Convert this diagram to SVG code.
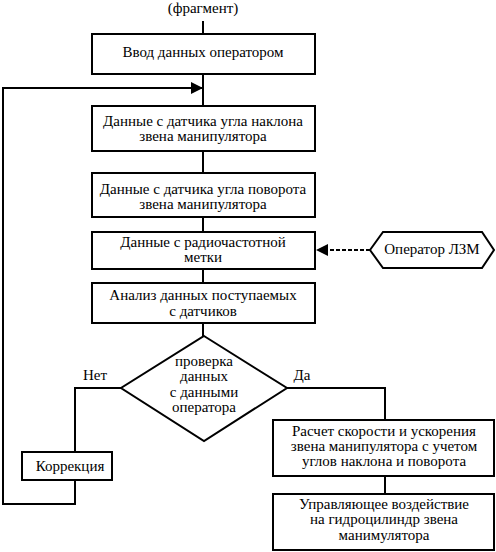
<svg xmlns="http://www.w3.org/2000/svg" width="496" height="552" viewBox="0 0 496 552" font-family="Liberation Serif" font-size="15">
<style>
.b{fill:#fff;stroke:#000;stroke-width:2}
.t{fill:#000;text-anchor:middle}
.c{fill:none;stroke:#000;stroke-width:2}
.d{fill:none;stroke:#000;stroke-width:2;stroke-dasharray:4,2}
</style>
<defs>
<marker id="a2" viewBox="0 0 10 10" refX="10" refY="5" markerWidth="12" markerHeight="12" markerUnits="userSpaceOnUse" orient="auto"><path d="M0,0L10,5L0,10z" fill="#000"/></marker>
</defs>
<g id="connectors">
<line class="c" x1="203" y1="21" x2="203" y2="34"/>
<line class="c" x1="203" y1="74" x2="203" y2="106"/>
<polyline class="c" points="75,480 75,504 3,504 3,88 203,88" marker-end="url(#a2)"/>
<line class="c" x1="203" y1="151" x2="203" y2="173"/>
<line class="c" x1="203" y1="217" x2="203" y2="232"/>
<line class="c" x1="203" y1="269" x2="203" y2="283"/>
<line class="c" x1="203" y1="323" x2="203" y2="336"/>
<line class="d" x1="370" y1="250" x2="316" y2="250" marker-end="url(#a2)"/>
<polyline class="c" points="121,388 75,388 75,452"/>
<polyline class="c" points="287,388 385,388 385,420"/>
<line class="c" x1="385" y1="476" x2="385" y2="494"/>
<text class="t" x="95" y="380">Нет</text>
<text class="t" x="302" y="380">Да</text>
</g>
<text class="t" x="203" y="13">(фрагмент)</text>
<g id="n1"><rect class="b" x="92" y="34" width="223" height="40"/><text class="t" x="203" y="57">Ввод данных оператором</text></g>
<g id="n2"><rect class="b" x="92" y="106" width="223" height="45"/><text class="t" x="203" y="126">Данные с датчика угла наклона</text><text class="t" x="203" y="141">звена манипулятора</text></g>
<g id="n3"><rect class="b" x="92" y="173" width="223" height="44"/><text class="t" x="203" y="194">Данные с датчика угла поворота</text><text class="t" x="203" y="209">звена манипулятора</text></g>
<g id="n4"><rect class="b" x="92" y="232" width="223" height="37"/><text class="t" x="203" y="247">Данные с радиочастотной</text><text class="t" x="203" y="262">метки</text></g>
<g id="n5"><rect class="b" x="92" y="283" width="223" height="40"/><text class="t" x="203" y="300">Анализ данных поступаемых</text><text class="t" x="203" y="316">с датчиков</text></g>
<g id="n6"><polygon class="b" points="370,250 383,232 482,232 494,250 482,268 383,268"/><text class="t" x="432" y="254">Оператор ЛЗМ</text></g>
<g id="n7"><polygon class="b" points="204,336 287,388 204,441 121,388"/><text class="t" x="204" y="366">проверка</text><text class="t" x="204" y="381">данных</text><text class="t" x="204" y="397">с данными</text><text class="t" x="204" y="412">оператора</text></g>
<g id="n8"><rect class="b" x="22" y="452" width="90" height="28"/><text class="t" x="70" y="471">Коррекция</text></g>
<g id="n9"><rect class="b" x="273" y="420" width="221" height="56"/><text class="t" x="384" y="436">Расчет скорости и ускорения</text><text class="t" x="384" y="451">звена манипулятора с учетом</text><text class="t" x="384" y="466">углов наклона и поворота</text></g>
<g id="n10"><rect class="b" x="273" y="494" width="221" height="56"/><text class="t" x="384" y="509">Управляющее воздействие</text><text class="t" x="384" y="524">на гидроцилиндр звена</text><text class="t" x="384" y="540">манимулятора</text></g>
</svg>
